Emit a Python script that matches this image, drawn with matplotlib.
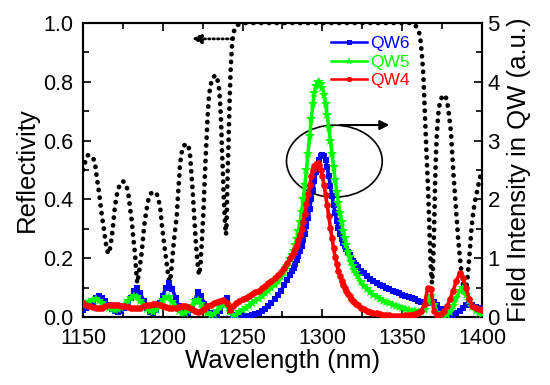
import numpy as np
import matplotlib
matplotlib.use("Agg")
import matplotlib.pyplot as plt
from matplotlib.patches import Ellipse
from matplotlib.ticker import MultipleLocator

plt.rcParams['font.family'] = ['Liberation Sans', 'DejaVu Sans']

# ---------------- data ----------------
# reflectivity (left axis)
refl_wl = [1150, 1151, 1152, 1153, 1154.5, 1156, 1157.5, 1158.5, 1159.6, 1160.6, 1161.7, 1162.8,
           1163.8, 1164.8, 1165.8, 1166.8, 1168, 1169, 1170, 1171, 1172, 1173.5, 1175, 1176.5,
           1177.5, 1178.5, 1179.5, 1180.5, 1181.5, 1182.6, 1183.4, 1184, 1184.8, 1185.8, 1186.8,
           1187.8, 1188.8, 1190, 1191, 1192.5, 1194.5, 1196.5, 1197.5, 1198.5, 1199.5, 1200.5,
           1201.5, 1202.5, 1203.4, 1204.1, 1205, 1206, 1207, 1207.8, 1208.7, 1209.6, 1210.8, 1212,
           1213, 1215, 1216.3, 1217.2, 1218, 1218.6, 1219.2, 1219.8, 1220.5, 1221.2, 1222, 1222.7,
           1223.5, 1224.4, 1225.4, 1226.2, 1227, 1227.8, 1228.6, 1229.5, 1230.6, 1232.7, 1234,
           1235, 1235.8, 1236.5, 1237, 1237.6, 1238.1, 1238.6, 1239.1, 1239.6, 1240, 1240.4, 1241,
           1241.5, 1242, 1242.5, 1243.1, 1243.6, 1244.3, 1245, 1246, 1247.5, 1250, 1355, 1357,
           1359, 1360.2, 1361.2, 1362.2, 1363.2, 1364.3, 1365.2, 1366.1, 1366.9, 1367.6, 1368.2,
           1368.7, 1369.3, 1370, 1370.6, 1371.2, 1371.8, 1372.6, 1373.6, 1375, 1376.2, 1377.2,
           1378.5, 1379.5, 1380.5, 1381.3, 1382.2, 1383, 1384, 1385, 1386.2, 1387.4, 1388.4,
           1389.3, 1390.2, 1391.2, 1392.3, 1393.4, 1394.6, 1395.8, 1397, 1398.5, 1400]
refl_val = [0.50, 0.52, 0.54, 0.55, 0.55, 0.545, 0.525, 0.48, 0.44, 0.40, 0.35, 0.31,
            0.27, 0.235, 0.215, 0.23, 0.27, 0.32, 0.375, 0.41, 0.435, 0.455, 0.462, 0.455,
            0.44, 0.415, 0.37, 0.33, 0.27, 0.215, 0.15, 0.115, 0.14, 0.18, 0.22,
            0.28, 0.33, 0.37, 0.40, 0.42, 0.427, 0.415, 0.395, 0.365, 0.31, 0.265,
            0.22, 0.18, 0.14, 0.12, 0.14, 0.20, 0.26, 0.30, 0.34, 0.42, 0.52, 0.565,
            0.582, 0.59, 0.575, 0.545, 0.48, 0.44, 0.385, 0.33, 0.27, 0.22, 0.17, 0.143,
            0.17, 0.25, 0.35, 0.46, 0.56, 0.65, 0.73, 0.775, 0.805, 0.823, 0.812,
            0.79, 0.74, 0.67, 0.58, 0.50, 0.42, 0.36, 0.31, 0.28, 0.32, 0.44, 0.56,
            0.67, 0.76, 0.84, 0.90, 0.94, 0.965, 0.98, 0.99, 0.995, 1.0, 1.0, 0.998,
            0.987, 0.975, 0.955, 0.90, 0.83, 0.68, 0.56, 0.45, 0.33, 0.21, 0.14,
            0.115, 0.17, 0.30, 0.45, 0.56, 0.63, 0.69, 0.73, 0.75, 0.755, 0.752,
            0.72, 0.68, 0.63, 0.56, 0.48, 0.42, 0.34, 0.27, 0.20, 0.14, 0.10,
            0.085, 0.10, 0.15, 0.22, 0.30, 0.36, 0.40, 0.43, 0.47, 0.50]

# field intensity (right axis) on a shared wavelength grid
wl = np.concatenate([np.arange(1150, 1279, 2), np.arange(1280, 1323, 1), np.arange(1324, 1401, 2)])

qw6 = [0.12, 0.15, 0.2, 0.26, 0.32, 0.35, 0.33, 0.27, 0.2, 0.14,
       0.1, 0.09, 0.11, 0.16, 0.24, 0.33, 0.44, 0.49, 0.4, 0.27,
       0.16, 0.09, 0.07, 0.12, 0.23, 0.36, 0.5, 0.57, 0.48, 0.32,
       0.19, 0.1, 0.06, 0.06, 0.12, 0.28, 0.43, 0.36, 0.22, 0.12,
       0.07, 0.04, 0.04, 0.1, 0.25, 0.33, 0.1, 0.03, 0.01, 0.01,
       0.01, 0.01, 0.02, 0.03, 0.05, 0.07, 0.1, 0.14, 0.18, 0.24,
       0.3, 0.37, 0.45, 0.54, 0.63,
       0.72, 0.78, 0.84, 0.9, 0.97, 1.04, 1.12, 1.21, 1.31, 1.42,
       1.55, 1.69, 1.84, 2.0, 2.16, 2.32, 2.46, 2.58, 2.67, 2.73,
       2.76, 2.74, 2.67, 2.55, 2.4, 2.22, 2.06, 1.91, 1.77, 1.64,
       1.52, 1.42, 1.33, 1.26, 1.2, 1.15, 1.1, 1.05, 1.0, 0.96,
       0.92, 0.88, 0.85,
       0.79, 0.74, 0.69, 0.65, 0.61, 0.58, 0.55, 0.52, 0.49, 0.47,
       0.44, 0.42, 0.4, 0.38, 0.36, 0.34, 0.32, 0.3, 0.28, 0.26,
       0.24, 0.23, 0.24, 0.25, 0.2, 0.13, 0.07, 0.04, 0.03, 0.04,
       0.06, 0.1, 0.15, 0.2, 0.22, 0.2, 0.17, 0.15, 0.14]

qw5 = [0.2, 0.23, 0.26, 0.29, 0.3, 0.28, 0.24, 0.19, 0.15, 0.13,
       0.12, 0.13, 0.16, 0.21, 0.27, 0.32, 0.35, 0.34, 0.28, 0.2,
       0.14, 0.1, 0.09, 0.12, 0.2, 0.29, 0.34, 0.34, 0.26, 0.17,
       0.1, 0.06, 0.06, 0.11, 0.19, 0.27, 0.29, 0.22, 0.13, 0.06,
       0.03, 0.05, 0.1, 0.17, 0.22, 0.2, 0.08, 0.03, 0.04, 0.08,
       0.12, 0.15, 0.19, 0.23, 0.27, 0.31, 0.35, 0.4, 0.45, 0.5,
       0.55, 0.61, 0.68, 0.76, 0.86,
       0.98, 1.05, 1.13, 1.22, 1.33, 1.46, 1.61, 1.79, 2.0, 2.24,
       2.5, 2.78, 3.07, 3.36, 3.62, 3.81, 3.93, 3.99, 4.0, 3.97,
       3.9, 3.78, 3.62, 3.43, 3.22, 3.0, 2.77, 2.55, 2.33, 2.13,
       1.94, 1.77, 1.61, 1.47, 1.34, 1.22, 1.11, 1.02, 0.94, 0.87,
       0.8, 0.74, 0.69,
       0.6, 0.53, 0.47, 0.42, 0.38, 0.34, 0.31, 0.28, 0.25, 0.23,
       0.21, 0.19, 0.17, 0.15, 0.14, 0.12, 0.11, 0.1, 0.09, 0.09,
       0.12, 0.25, 0.36, 0.2, 0.07, 0.03, 0.02, 0.04, 0.09, 0.18,
       0.32, 0.45, 0.5, 0.38, 0.27, 0.17, 0.1, 0.07, 0.05]

qw4 = [0.23, 0.21, 0.19, 0.17, 0.16, 0.15, 0.16, 0.18, 0.2, 0.21,
       0.21, 0.2, 0.19, 0.18, 0.17, 0.16, 0.15, 0.15, 0.16, 0.18,
       0.2, 0.21, 0.22, 0.22, 0.21, 0.19, 0.17, 0.15, 0.15, 0.16,
       0.17, 0.18, 0.18, 0.17, 0.14, 0.11, 0.09, 0.1, 0.14, 0.18,
       0.21, 0.23, 0.25, 0.27, 0.29, 0.24, 0.12, 0.18, 0.23, 0.27,
       0.3, 0.33, 0.36, 0.39, 0.42, 0.45, 0.49, 0.53, 0.57, 0.61,
       0.66, 0.71, 0.77, 0.84, 0.92,
       1.0, 1.05, 1.1, 1.16, 1.23, 1.31, 1.4, 1.5, 1.62, 1.76,
       1.92, 2.09, 2.25, 2.39, 2.5, 2.57, 2.61, 2.62, 2.58, 2.5,
       2.39, 2.25, 2.08, 1.9, 1.71, 1.52, 1.34, 1.17, 1.02, 0.9,
       0.79, 0.7, 0.62, 0.55, 0.49, 0.44, 0.39, 0.35, 0.31, 0.28,
       0.25, 0.22, 0.2,
       0.16, 0.13, 0.1, 0.08, 0.07, 0.06, 0.05, 0.04, 0.03, 0.03,
       0.02, 0.02, 0.02, 0.02, 0.03, 0.03, 0.04, 0.05, 0.07, 0.11,
       0.22, 0.5, 0.48, 0.1, 0.04, 0.05, 0.1, 0.18, 0.3, 0.45,
       0.62, 0.74, 0.66, 0.5, 0.3, 0.19, 0.15, 0.13, 0.12]

xticks = [1150, 1200, 1250, 1300, 1350, 1400]
yticks_left = [0.0, 0.2, 0.4, 0.6, 0.8, 1.0]
yticks_right = [0, 1, 2, 3, 4, 5]

# ---------------- figure ----------------
W, H = 550, 385
fig = plt.figure(figsize=(W / 100, H / 100), dpi=100)
L, R, T, B = 83, 482, 23, 317
ax = fig.add_axes([L / W, 1 - B / H, (R - L) / W, (B - T) / H])
ax2 = ax.twinx()

# colored field curves
ax2.plot(wl, qw6, color='#0000ff', lw=2.6, marker='s', ms=4.5, mew=0, label='QW6', zorder=3)
ax2.plot(wl, qw5, color='#00ff00', lw=2.6, marker='*', ms=7.5, mew=0, label='QW5', zorder=4)
ax2.plot(wl, qw4, color='#ff0000', lw=2.6, marker='o', ms=4.8, mew=0, label='QW4', zorder=5)

# reflectivity dotted curve
ax.plot(refl_wl, refl_val, color='black', lw=3.4, linestyle=(0, (0.05, 1.6)),
        dash_capstyle='round', zorder=2)

ax.set_xlim(1150, 1400)
ax.set_ylim(0, 1.0)
ax2.set_ylim(0, 5)
ax.set_xticks(xticks)
ax.set_yticks(yticks_left)
ax.set_yticklabels(['%.1f' % v for v in yticks_left])
ax2.set_yticks(yticks_right)
ax.xaxis.set_minor_locator(MultipleLocator(25))
ax.yaxis.set_minor_locator(MultipleLocator(0.1))
ax2.yaxis.set_minor_locator(MultipleLocator(0.5))

for a in (ax, ax2):
    for s in a.spines.values():
        s.set_linewidth(1.5)
ax.tick_params(which='both', direction='in', top=True, right=False, width=1.2, labelsize=15.5)
ax.tick_params(which='major', length=5.5)
ax.tick_params(which='minor', length=4)
ax.tick_params(axis='x', pad=8)
ax.tick_params(axis='y', pad=7)
ax2.tick_params(which='both', direction='in', width=1.2, labelsize=16, pad=4)
ax2.tick_params(which='major', length=5.5)
ax2.tick_params(which='minor', length=4)

ax.set_xlabel('Wavelength (nm)', fontsize=18.5, labelpad=0)
ax.set_ylabel('Reflectivity', fontsize=18.5, labelpad=3)
ax2.set_ylabel('Field Intensity in QW (a.u.)', fontsize=18.5, labelpad=5)

# annotations
ax.add_patch(Ellipse((1307.5, 0.53), 60, 0.245, fill=False, edgecolor='black', lw=1.2, zorder=6))
ax.annotate('', xy=(1342, 0.653), xytext=(1311, 0.653),
            arrowprops=dict(arrowstyle='-|>', color='black', lw=1.5, mutation_scale=14,
                            shrinkA=0, shrinkB=0), zorder=6)
ax.annotate('', xy=(1218, 0.946), xytext=(1243.5, 0.946),
            arrowprops=dict(arrowstyle='-|>', color='black', lw=2.0, linestyle=(0, (0.5, 1.1)),
                            mutation_scale=14, shrinkA=0, shrinkB=0), zorder=6)

leg = ax2.legend(loc='upper left', bbox_to_anchor=(331 / W, 1 - 36 / H),
                 bbox_transform=fig.transFigure, frameon=False, fontsize=12.5,
                 handlelength=2.1, handletextpad=0.15, labelspacing=0.2,
                 borderpad=0, borderaxespad=0, markerscale=0.8, labelcolor='linecolor')
for line in leg.get_lines():
    line.set_linewidth(1.8)

fig.savefig('out.png', dpi=100)
